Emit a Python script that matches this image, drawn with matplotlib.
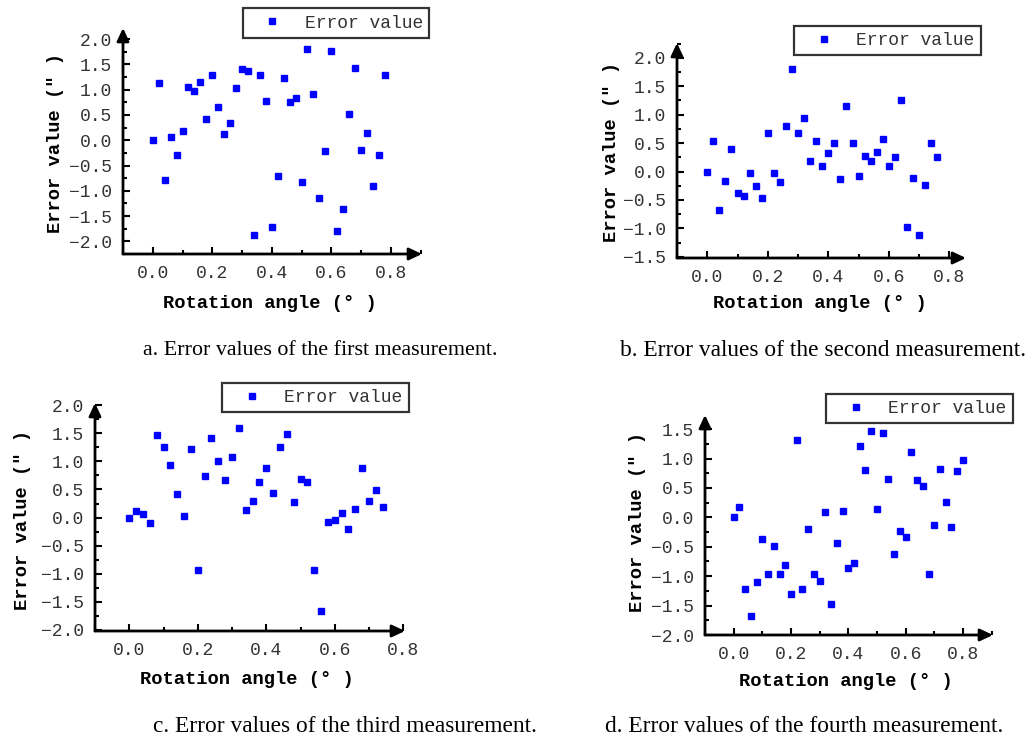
import numpy as np
import matplotlib
matplotlib.use("Agg")
import matplotlib.pyplot as plt
from matplotlib.ticker import MultipleLocator

# Error values (rotation angle step 0.02 deg)
err_1 = [0.00, 1.14, -0.78, 0.07, -0.29, 0.19, 1.05, 0.97, 1.16, 0.43,
         1.30, 0.66, 0.13, 0.34, 1.04, 1.41, 1.36, -1.87, 1.30, 0.77,
         -1.72, -0.70, 1.24, 0.75, 0.83, -0.83, 1.81, 0.92, -1.15, -0.21,
         1.77, -1.79, -1.36, 0.51, 1.43, -0.19, 0.15, -0.91, -0.29, 1.29]
err_2 = [0.00, 0.54, -0.67, -0.17, 0.40, -0.37, -0.43, -0.02, -0.25, -0.47,
         0.68, -0.03, -0.19, 0.80, 1.80, 0.68, 0.94, 0.18, 0.53, 0.09,
         0.32, 0.50, -0.13, 1.15, 0.50, -0.07, 0.27, 0.18, 0.34, 0.57,
         0.10, 0.26, 1.26, -0.97, -0.11, -1.11, -0.23, 0.50, 0.25]
err_3 = [0.00, 0.11, 0.07, -0.09, 1.47, 1.25, 0.93, 0.42, 0.02, 1.22,
         -0.94, 0.74, 1.42, 1.01, 0.66, 1.08, 1.59, 0.13, 0.29, 0.64,
         0.88, 0.44, 1.26, 1.49, 0.28, 0.68, 0.63, -0.93, -1.67, -0.08,
         -0.05, 0.08, -0.20, 0.15, 0.89, 0.29, 0.49, 0.19]
err_4 = [0.00, 0.18, -1.22, -1.68, -1.10, -0.37, -0.96, -0.48, -0.96, -0.81,
         -1.30, 1.32, -1.22, -0.20, -0.96, -1.09, 0.09, -1.47, -0.43, 0.10,
         -0.86, -0.77, 1.22, 0.80, 1.47, 0.14, 1.44, 0.65, -0.63, -0.23,
         -0.33, 1.11, 0.63, 0.53, -0.96, -0.13, 0.83, 0.26, -0.16, 0.78, 0.98]

captions = ["a. Error values of the first measurement.",
            "b. Error values of the second measurement.",
            "c. Error values of the third measurement.",
            "d. Error values of the fourth measurement."]

W, H = 1036, 740
fig = plt.figure(figsize=(W / 100, H / 100), dpi=100)

mono = ["Liberation Mono", "DejaVu Sans Mono"]
serif = ["Liberation Serif", "DejaVu Serif"]


def px_axes(left, top, right, bottom):
    # pixel box (from top-left of image) -> figure fraction
    return fig.add_axes([left / W, 1 - bottom / H, (right - left) / W, (bottom - top) / H])


# per panel: axes pixel box, limits, yticks, legend box, label positions, caption
panels = [
    dict(box=(123, 28, 422, 254), xlim=(-0.1, 0.905), ylim=(-2.25, 2.22), yt=(-2.0, 2.0),
         leg=(244, 9, 428, 37), xl=(270, 303), yl=(55, 143), cap=(320, 350, 15.8), data=err_1),
    dict(box=(677, 43, 966, 258), xlim=(-0.1, 0.855), ylim=(-1.52, 2.26), yt=(-1.5, 2.0),
         leg=(798, 27, 977, 54), xl=(820, 304), yl=(612, 152), cap=(823, 350, 16.8), data=err_2),
    dict(box=(95, 403, 405, 631), xlim=(-0.1, 0.805), ylim=(-2.02, 2.04), yt=(-2.0, 2.0),
         leg=(221, 383, 410, 412), xl=(247, 679), yl=(23, 520), cap=(345, 727, 16.8), data=err_3),
    dict(box=(705, 415, 993, 635), xlim=(-0.1, 0.905), ylim=(-2.0, 1.74), yt=(-2.0, 1.5),
         leg=(831, 394, 1008, 423), xl=(846, 682), yl=(637, 522), cap=(804, 727, 16.8), data=err_4),
]

arrow = dict(arrowstyle="-|>,head_length=0.7,head_width=0.33", color="black", lw=2,
             mutation_scale=11, shrinkA=0, shrinkB=0)

for i, p in enumerate(panels):
    ax = px_axes(*p["box"])
    vals = np.array(p["data"])
    angle = np.arange(len(vals)) * 0.02
    ax.plot(angle, vals, "s", color="#0000ff", markersize=4.4, linestyle="none",
            label="Error value")
    ax.set_xlim(*p["xlim"])
    ax.set_ylim(*p["ylim"])

    # axis lines with arrow heads instead of spines
    for s in ax.spines.values():
        s.set_visible(False)
    ax.annotate("", xy=(1, 0), xytext=(0, 0), xycoords="axes fraction",
                arrowprops=arrow, annotation_clip=False)
    ax.annotate("", xy=(0, 1), xytext=(0, 0), xycoords="axes fraction",
                arrowprops=arrow, annotation_clip=False)

    ax.set_xticks([0.0, 0.2, 0.4, 0.6, 0.8])
    ax.xaxis.set_minor_locator(MultipleLocator(0.1))
    ax.set_yticks(np.arange(p["yt"][0], p["yt"][1] + 0.01, 0.5))
    ax.yaxis.set_minor_locator(MultipleLocator(0.25))
    ax.xaxis.set_major_formatter(plt.FuncFormatter(lambda v, _: f"{v:.1f}"))
    ax.yaxis.set_major_formatter(plt.FuncFormatter(lambda v, _: f"{v:.1f}".replace("-", "\u2212")))
    ax.tick_params(which="major", direction="in", length=5, width=1.5, pad=8,
                   labelsize=13, labelcolor="#333333")
    ax.tick_params(which="minor", direction="in", length=3, width=1.5)
    for lab in ax.get_xticklabels() + ax.get_yticklabels():
        lab.set_family(mono)

    ax.set_xlabel("Rotation angle (° )", family=mono, fontweight="bold", fontsize=13.5)
    ax.set_ylabel("Error value (″ )", family=mono, fontweight="bold", fontsize=13.5)
    x0, y0, x1, y1 = p["box"]
    ax.xaxis.set_label_coords((p["xl"][0] - x0) / (x1 - x0), (y1 - p["xl"][1]) / (y1 - y0))
    ax.yaxis.set_label_coords((p["yl"][0] - x0) / (x1 - x0), (y1 - p["yl"][1]) / (y1 - y0))
    ax.xaxis.label.set_va("center")
    ax.yaxis.label.set_va("center")

    lx0, ly0, lx1, ly1 = p["leg"]
    leg = ax.legend(loc="center", bbox_to_anchor=((lx0 + lx1) / 2 / W, 1 - (ly0 + ly1) / 2 / H),
                    bbox_transform=fig.transFigure, frameon=True, fancybox=False,
                    prop=dict(family=mono, size=13), handletextpad=0.5, handlelength=2.6,
                    borderpad=0.35, borderaxespad=0, markerscale=1.0)
    leg.get_frame().set_edgecolor("black")
    leg.get_frame().set_linewidth(1.6)
    for t in leg.get_texts():
        t.set_color("#333333")

    cx, cy, cs = p["cap"]
    fig.text(cx / W, 1 - cy / H, captions[i], ha="center", va="center",
             family=serif, fontsize=cs)

fig.savefig("out.png", dpi=100)
